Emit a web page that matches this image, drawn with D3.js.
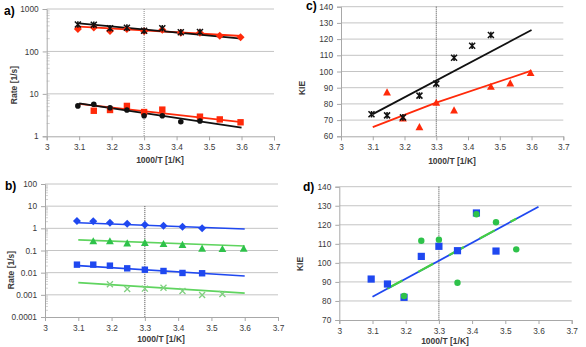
<!DOCTYPE html>
<html><head><meta charset="utf-8">
<script src="https://cdn.jsdelivr.net/npm/d3@7"></script>
<style>
body{margin:0;background:#fff;}
svg{display:block;font-family:"Liberation Sans",Arial,sans-serif;}
</style></head>
<body><svg id="c" width="586" height="347"></svg>
<script>
// ---- data ----
const xT = [3.096, 3.145, 3.195, 3.247, 3.300, 3.356, 3.413, 3.472, 3.533, 3.597];
const xTicks = [3, 3.1, 3.2, 3.3, 3.4, 3.5, 3.6, 3.7];
const xTickLabels = ["3","3.1","3.2","3.3","3.4","3.5","3.6","3.7"];

// panel a (rates, log)
const aStarUp   = [430, 426, 351, 363, 308, 351, 282, 287, null, null];
const aDiamUp   = [338, 365, 303, 338, 297, 326, 277, 277, 235, 215];
const aCircLow  = [5.2, 5.7, 4.7, 4.17, 3.05, 3.05, 2.2, 2.29, null, null];
const aSqLow    = [null, 4.0, 4.17, 5.2, 3.73, 4.25, null, 2.9, 2.5, 2.14];
const aFitBlackUp  = [[3.1, 460], [3.6, 200]];
const aFitRedUp    = [[3.1, 383], [3.6, 231]];
const aFitBlackLow = [[3.1, 6.0], [3.6, 1.6]];
const aFitRedLow   = [[3.1, 5.8], [3.6, 2.17]];
const aYTicks = [1, 10, 100, 1000];

// panel b (rates, log)
const bDiam  = [2.14, 2.1, 1.8, 1.62, 1.46, 1.32, 1.19, 1.0, null, null];
const bTri   = [null, 0.26, 0.26, 0.21, 0.22, 0.196, 0.18, 0.121, 0.117, 0.12];
const bSq    = [0.023, 0.023, 0.0207, 0.0157, 0.0136, 0.0119, 0.0097, 0.0094, null, null];
const bX     = [null, null, 0.0030, 0.00183, 0.0019, 0.0021, 0.0015, 0.00098, 0.0011, null];
const bFitBlueUp   = [[3.1, 1.8], [3.6, 0.94]];
const bFitGreenUp  = [[3.1, 0.30], [3.6, 0.16]];
const bFitBlueLow  = [[3.1, 0.0207], [3.6, 0.0071]];
const bFitGreenLow = [[3.1, 0.00355], [3.6, 0.0012]];
const bYTicks = [0.0001, 0.001, 0.01, 0.1, 1, 10, 100];
const bYTickLabels = ["0.0001","0.001","0.01","0.1","1","10","100"];

// panel c (KIE)
const cStar = [73.6, 72.9, 71.7, 85.1, 92.5, 108.5, 115.9, 122.5, null, null];
const cTri  = [null, 87.1, 71.1, 65.7, 80.7, 76.0, null, 90.6, 92.7, 99.1];
const cFitBlack = [[3.1, 73.7], [3.6, 125.6]];
const cFitRed   = [[3.1, 65.7], [3.3, 80.8], [3.6, 100.5]];
const cYTicks = [60, 70, 80, 90, 100, 110, 120, 130, 140];

// panel d (KIE)
const dSq   = [91.5, 88.9, 81.9, 103.4, 108.7, 106.4, 126.2, 106.2, null, null];
const dCirc = [null, null, 82.6, 111.6, 112.2, 89.6, 125.5, 121.3, 107.1, null];
const dFitBlue  = [[3.1, 82.2], [3.6, 129.5]];
const dFitGreen = [[3.145, 86.5], [3.533, 123.2]];
const dYTicks = [70, 80, 90, 100, 110, 120, 130, 140];

// ---- colours ----
const RED = "#ff2a0a", BLACK = "#111", BLUE = "#1f48f0", GREEN = "#2ec24a", LGREEN = "#5fd45f";
const GRID = "#c4c4c4", AXIS = "#a8a8a8", TXT = "#3a3a3a";

const svg = d3.select("#c");

function panel(o) {
  const g = svg.append("g");
  const x = d3.scaleLinear().domain([3, 3.7]).range([o.x0, o.x1]);
  const y = (o.log ? d3.scaleLog() : d3.scaleLinear()).domain(o.ydom).range([o.y0, o.y1]);
  g.selectAll(".gr").data(o.yTicks.slice(1)).join("line")
    .attr("x1", o.x0).attr("x2", o.x1).attr("y1", d => y(d)).attr("y2", d => y(d))
    .attr("stroke", GRID).attr("stroke-width", 1);
  if (o.log) {
    const minors = [];
    for (let i = 0; i < o.yTicks.length - 1; i++)
      for (let k = 2; k <= 9; k++) minors.push(o.yTicks[i] * k);
    g.selectAll(".mn").data(minors).join("line")
      .attr("x1", o.x0).attr("x2", o.x0 + 3).attr("y1", d => y(d)).attr("y2", d => y(d))
      .attr("stroke", "#c8c8c8").attr("stroke-width", 0.8);
  }
  const xa = g.append("g").attr("transform", `translate(0,${o.y0})`)
    .call(d3.axisBottom(x).tickValues(xTicks).tickFormat((d, i) => xTickLabels[i]).tickSize(4).tickPadding(4));
  xa.select(".domain").attr("stroke", AXIS);
  xa.selectAll(".tick line").attr("stroke", AXIS);
  xa.selectAll("text").attr("fill", TXT).style("font-size", "8.3px");
  const ya = g.append("g").attr("transform", `translate(${o.x0},0)`)
    .call(d3.axisLeft(y).tickValues(o.yTicks).tickFormat((d, i) => o.yLabels ? o.yLabels[i] : String(d)).tickSize(4).tickPadding(4));
  ya.select(".domain").attr("stroke", AXIS);
  ya.selectAll(".tick line").attr("stroke", AXIS);
  ya.selectAll("text").attr("fill", TXT).style("font-size", "8.3px");
  g.append("line").attr("x1", x(3.3)).attr("x2", x(3.3))
    .attr("y1", y(o.vTop)).attr("y2", o.y0)
    .attr("stroke", o.vColor || "#444").attr("stroke-width", 1).attr("stroke-dasharray", "1,1");
  g.append("text").attr("x", o.xt).attr("y", o.xtY).attr("text-anchor", "middle")
    .attr("font-weight", "bold").attr("fill", TXT).style("font-size", "8.5px").text("1000/T  [1/K]");
  g.append("text").attr("transform", `translate(${o.ytX},${o.ytY}) rotate(-90)`).attr("text-anchor", "middle")
    .attr("font-weight", "bold").attr("fill", TXT).style("font-size", "8.5px").text(o.ytitle);
  g.append("text").attr("x", o.lx).attr("y", o.ly).attr("font-weight", "bold")
    .attr("fill", "#000").style("font-size", "12px").text(o.label);
  return {g, x, y};
}

function fit(p, pts, color, w, dash) {
  const line = d3.line().x(d => p.x(d[0])).y(d => p.y(d[1]));
  const path = p.g.append("path").attr("d", line(pts)).attr("fill", "none")
    .attr("stroke", color).attr("stroke-width", w || 1.8);
  if (dash) path.attr("stroke-dasharray", dash);
}

function pts(p, vals) { return xT.map((xv, i) => ({x: xv, v: vals[i]})).filter(d => d.v != null); }

function marker(p, vals, type, color, s) {
  const data = pts(p, vals);
  const gg = p.g.append("g");
  const sel = gg.selectAll("g").data(data).join("g")
    .attr("transform", d => `translate(${p.x(d.x)},${p.y(d.v)})`);
  s = s || 3.2;
  if (type === "circle") sel.append("circle").attr("r", s).attr("fill", color);
  else if (type === "square") sel.append("rect").attr("x", -s).attr("y", -s).attr("width", 2*s).attr("height", 2*s).attr("fill", color);
  else if (type === "diamond") sel.append("path").attr("d", `M0,${-s*1.25}L${s*1.25},0L0,${s*1.25}L${-s*1.25},0Z`).attr("fill", color);
  else if (type === "triangle") sel.append("path").attr("d", `M0,${-s*1.2}L${s*1.15},${s*0.9}L${-s*1.15},${s*0.9}Z`).attr("fill", color);
  else if (type === "star") sel.append("path").attr("d", `M${-s},${-s}L${s},${s}M${s},${-s}L${-s},${s}M0,${-s*1.1}L0,${s*1.1}`)
      .attr("stroke", color).attr("stroke-width", 1.5).attr("fill", "none");
  else if (type === "x") sel.append("path").attr("d", `M${-s},${-s}L${s},${s}M${s},${-s}L${-s},${s}`)
      .attr("stroke", color).attr("stroke-width", 1.3).attr("fill", "none");
}

// ---- panel a ----
const pa = panel({x0: 46.7, x1: 274, y0: 136.3, y1: 9, log: true, ydom: [1, 1000], yTicks: aYTicks,
  vTop: 1000, vColor: "#888", xt: 160, xtY: 163, ytX: 17, ytY: 85, ytitle: "Rate  [1/s]", label: "a)", lx: 4, ly: 15});
fit(pa, aFitRedUp, RED); fit(pa, aFitBlackUp, BLACK);
fit(pa, aFitRedLow, RED); fit(pa, aFitBlackLow, BLACK);
marker(pa, aDiamUp, "diamond", RED);
marker(pa, aStarUp, "star", BLACK, 3);
marker(pa, aSqLow, "square", RED);
marker(pa, aCircLow, "circle", BLACK, 2.8);

// ---- panel b ----
const pb = panel({x0: 45, x1: 278, y0: 317, y1: 184, log: true, ydom: [0.0001, 100], yTicks: bYTicks, yLabels: bYTickLabels,
  vTop: 10, xt: 161, xtY: 342, ytX: 14, ytY: 270, ytitle: "Rate  [1/s]", label: "b)", lx: 5, ly: 190});
fit(pb, bFitBlueUp, BLUE, 1.6); fit(pb, bFitGreenUp, LGREEN, 1.6);
fit(pb, bFitBlueLow, BLUE, 1.6); fit(pb, bFitGreenLow, LGREEN, 1.6);
marker(pb, bDiam, "diamond", BLUE);
marker(pb, bTri, "triangle", GREEN, 3.4);
marker(pb, bSq, "square", BLUE);
marker(pb, bX, "x", "#7fd07f", 3);

// ---- panel c ----
const pc = panel({x0: 341, x1: 563.3, y0: 136.3, y1: 6.7, log: false, ydom: [60, 140], yTicks: cYTicks,
  vTop: 140, xt: 452, xtY: 164, ytX: 305, ytY: 88, ytitle: "KIE", label: "c)", lx: 306, ly: 10});
fit(pc, cFitBlack, BLACK); fit(pc, cFitRed, RED);
marker(pc, cTri, "triangle", RED, 3.4);
marker(pc, cStar, "star", BLACK, 3);

// ---- panel d ----
const pd = panel({x0: 339.3, x1: 571.7, y0: 320, y1: 186.7, log: false, ydom: [70, 140], yTicks: dYTicks,
  vTop: 140, xt: 445, xtY: 344, ytX: 303, ytY: 264, ytitle: "KIE", label: "d)", lx: 303, ly: 191});
fit(pd, dFitBlue, BLUE, 1.8); fit(pd, dFitGreen, "#44d040", 2.2, "17,18");
marker(pd, dSq, "square", BLUE, 3.6);
marker(pd, dCirc, "circle", GREEN, 3.2);
</script></body></html>
